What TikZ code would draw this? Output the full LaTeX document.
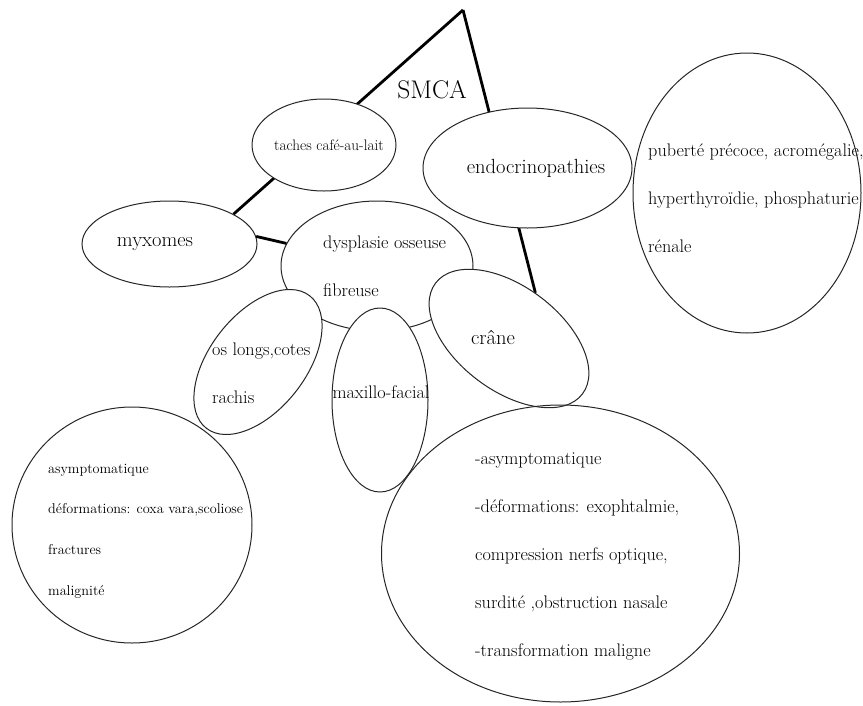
\documentclass[tikz,border=0pt]{standalone}
\usepackage{tikz}
\usetikzlibrary{shapes.geometric}
\pgfdeclarelayer{back}
\pgfsetlayers{back,main}

\begin{document}
\begin{tikzpicture}
      [x=1pt, y=-1pt,
      blob/.style={ellipse, draw=black!85, fill=white, line width=1pt, inner sep=0pt},
      txt/.style={inner sep=0pt, align=left},
      big/.style={font=\fontsize{20.5}{24}\selectfont},
      mid/.style={font=\fontsize{18.2}{48}\selectfont},
      small/.style={font=\fontsize{14.2}{40.7}\selectfont},
      bar/.style={-, line width=2.8pt}]
      \useasboundingbox (0, 0) rectangle (863, 705);
      \coordinate (apex) at (463, 10);
      \node (dysp) at (377, 266) [blob, minimum width=192, minimum height=130] {};
      \node (osl) at (258, 362) [blob, minimum width=168, minimum height=96, rotate=52] {};
      \node (maxi) at (380, 400) [blob, minimum width=96, minimum height=184] {};
      \node (crane) at (509, 338.5) [blob, minimum width=184, minimum height=104, rotate=-37] {};
      \node (myx) at (169.5, 244) [blob, minimum width=175, minimum height=86] {};
      \node (taches) at (324, 145) [blob, minimum width=144, minimum height=92] {};
      \node (endo) at (527.5, 168) [blob, minimum width=209, minimum height=120] {};
      \node (hormo) at (747, 193) [blob, minimum width=228, minimum height=280] {};
      \node (clinos) at (132, 525) [blob, fill=none, minimum width=240, minimum height=236] {};
      \node (clincr) at (560.5, 553.5) [blob, fill=none, minimum width=358, minimum height=297] {};

      \node (smca) at (432, 90) [txt, font=\fontsize{25.5}{30}\selectfont] {SMCA};
      \node (tachesT) at (329, 145) [txt, font=\fontsize{15.2}{18}\selectfont] {taches café-au-lait};
      \node (endoT) at (536, 168) [txt, big] {endocrinopathies};
      \node (hormoT) at (648, 198) [txt, mid, anchor=west]
      {puberté précoce, acromégalie,\\hyperthyroïdie, phosphaturie\\rénale};
      \node (myxT) at (155, 244) [txt, big] {myxomes};
      \node (dyspT) at (323, 266) [txt, mid, anchor=west] {dysplasie osseuse\\fibreuse};
      \node (oslT) at (212, 373) [txt, mid, anchor=west] {os longs,cotes\\rachis};
      \node (maxiT) at (381, 392) [txt, mid] {maxillo-facial};
      \node (craneT) at (493, 337) [txt, big] {crâne};
      \node (clinosT) at (48, 531) [txt, small, anchor=west]
      {asymptomatique\\déformations: coxa vara,scoliose\\fractures\\malignité};
      \node (clincrT) at (475, 556) [txt, mid, anchor=west]
      {-asymptomatique\\-déformations: exophtalmie,\\compression nerfs optique,\\surdité ,obstruction nasale\\-transformation maligne};

      \draw[bar] (myx.5) -- (dysp.166);
      \begin{pgfonlayer}{back}
      \draw[bar] (apex) -- (myx.25);
      \draw[bar] (apex) -- (crane.97);
      \end{pgfonlayer}
    \end{tikzpicture}
\end{document}
